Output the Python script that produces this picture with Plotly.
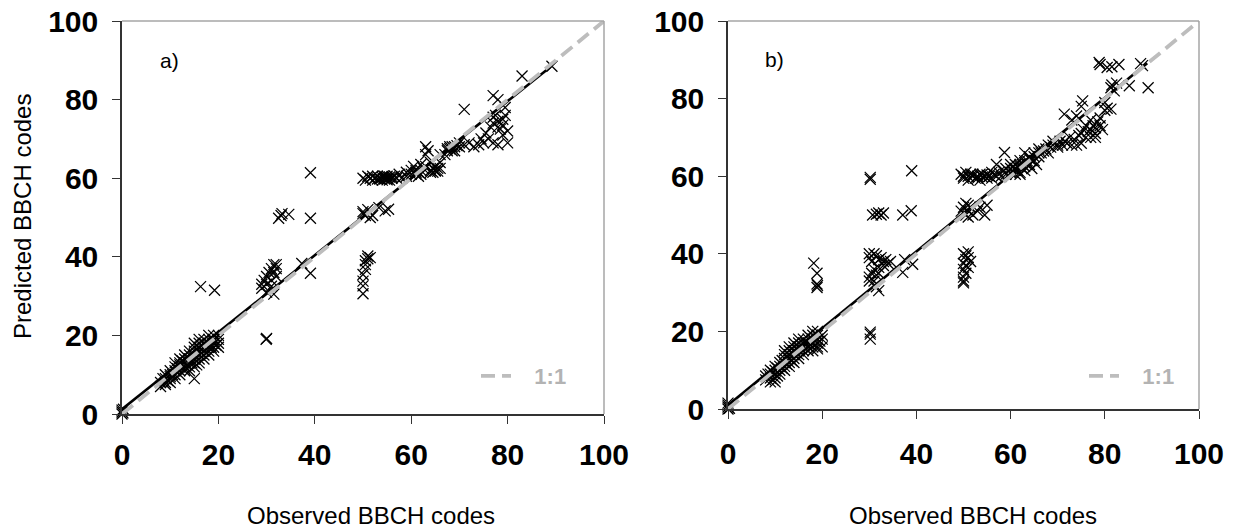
import plotly.graph_objects as go

# ---------------- data ----------------
# panel a) (observed, predicted)
pairs_a = [
    (0, 0), (0, 0.5), (0, 1), (0.2, 0.3), (0.3, 1.2),
    (8, 7), (8, 8), (8.5, 9), (9, 7.5), (9, 8), (9, 9), (9, 10), (9.5, 8.5),
    (10, 8), (10, 9), (10, 9.5), (10, 10), (10, 11), (10.5, 10),
    (11, 9), (11, 10), (11, 11), (11, 12), (11, 13), (11.5, 11.5),
    (12, 10), (12, 11), (12, 12), (12, 12.5), (12, 13), (12, 14), (12.5, 13.5),
    (13, 11), (13, 11.5), (13, 12), (13, 13), (13, 14), (13, 15), (13.5, 12.5),
    (14, 11), (14, 12), (14, 13), (14, 14), (14, 15), (14, 16), (14.5, 13),
    (15, 9), (15, 12), (15, 13), (15, 14), (15, 15), (15, 16), (15, 17), (15, 18), (15.5, 12.5),
    (16, 13), (16, 14), (16, 15), (16, 16), (16, 17), (16, 18), (16, 19), (16.5, 15.5),
    (17, 14), (17, 15), (17, 16), (17, 17), (17, 18), (17, 19), (17.5, 17.5),
    (18, 15), (18, 16), (18, 17), (18, 18), (18, 19), (18, 20), (18.5, 17),
    (19, 16), (19, 17), (19, 18), (19, 19), (19, 20), (19, 18.5), (19.5, 17.5),
    (20, 17), (20, 18), (20, 19), (20, 20),
    (16.3, 32.4), (19.2, 31.5), (29.9, 19), (30, 19.2),
    (29, 32), (29, 33), (29.5, 34), (30, 33), (30, 35), (30.5, 36), (31, 34), (31, 37),
    (31.5, 36), (31.5, 38), (32, 35), (32, 37), (32, 38), (30, 31), (31.5, 30.5), (31, 32.5),
    (32.5, 49.8), (33, 50.5), (34.6, 50.8), (33.2, 51), (37.3, 38.3),
    (39.1, 61.4), (39.1, 49.8), (39.1, 35.8),
    (50, 30.6), (50, 32.6), (50, 33.8), (50, 35.5), (50.5, 36.8), (50.5, 38), (51, 39.5),
    (51, 40.2), (50.5, 39), (51.5, 39.8),
    (50, 51.5), (50, 51), (50.5, 50.5), (51.5, 50), (51, 52), (53.3, 52.5), (54.6, 51.7),
    (55.3, 52.1), (52, 50.5),
    (50, 60), (50.5, 59.5), (51, 60.5), (51.5, 60), (52, 59.5), (52, 60.5), (52.5, 60),
    (53, 60.5), (53.5, 60), (54, 59.5), (54.5, 60.5), (55, 60), (55, 60.5), (55.5, 59.5),
    (56, 60), (56.5, 60.5), (57, 60), (57.5, 61), (58, 60),
    (53.5, 59.8), (54, 60.2), (54.5, 59.8), (55, 59.6), (55.5, 60.3), (56, 60.4),
    (54.2, 60.6), (53, 59.8),
    (59, 60.5), (59, 61.5), (60, 61), (60, 62), (60.5, 63), (61, 61), (61, 62), (61.5, 60.5),
    (62, 62), (62, 63.5), (62, 61), (63, 63), (63, 66), (63, 68), (63.5, 67), (64, 64),
    (64, 62), (64.5, 62.5), (65, 62), (65, 63), (65.5, 62.5), (66, 64), (66, 66), (67, 66),
    (67.5, 67), (68, 67.5), (68.5, 68), (69, 67), (69, 68), (70, 68), (70, 69),
    (64.5, 61.5), (65, 61.8), (65.5, 61.8), (64, 61.5), (66, 62.5), (67.5, 67.5), (68, 68),
    (68.5, 67), (69.5, 68.3), (61, 61.5), (61.5, 61.5), (62.5, 62.5),
    (71, 68.5), (72, 69), (73, 68), (74, 68.5), (74.5, 70), (75, 69), (76, 70), (75.5, 71.5),
    (77, 69), (78, 68.5), (80, 69), (79, 71),
    (76.5, 73), (77, 74), (77, 75.5), (77.5, 76), (78, 73), (78, 74.5), (78.5, 72.5),
    (79, 73.5), (79, 75), (79.5, 76), (80, 72), (79.5, 78), (78, 80), (77, 81),
    (71, 77.5), (83, 86), (89.2, 88.5),
]

# panel b) (observed, predicted)
pairs_b = [
    (0, 0), (0, 0.5), (0, 1), (0, 1.5), (0.3, 0.2),
    (8, 7.5), (8, 8.5), (8.5, 9), (9, 7), (9, 8), (9, 9), (9, 10), (9.5, 7.5), (9.5, 9.5),
    (10, 7), (10, 8), (10, 9), (10, 10), (10, 11), (10.5, 8.5), (10.5, 10.5),
    (11, 9), (11, 10), (11, 11), (11, 12), (11.5, 10.5), (11.5, 12.5),
    (12, 10), (12, 11), (12, 12), (12, 13), (12, 14), (12, 15), (12.5, 11.5), (12.5, 13.5),
    (13, 11), (13, 12), (13, 13), (13, 14), (13, 15), (13, 16), (13.5, 12.5),
    (14, 12), (14, 13), (14, 14), (14, 15), (14, 16), (14, 17), (14.5, 14.5),
    (15, 13), (15, 14), (15, 15), (15, 16), (15, 17), (15, 18), (15.5, 15.5),
    (16, 14), (16, 15), (16, 16), (16, 17), (16, 18), (16.5, 17),
    (17, 15), (17, 16), (17, 17), (17, 18), (17, 19), (17.5, 16.5),
    (18, 15), (18, 16), (18, 17), (18, 18), (18, 19), (18, 20),
    (19, 15.5), (19, 16), (19, 17), (19, 18), (19, 19), (19, 20), (19.5, 17.5),
    (20, 16), (20, 18), (20, 19),
    (18.2, 37.6), (18.9, 35), (18.9, 32.2), (18.9, 31.3), (19, 31.8),
    (30.2, 19.3), (30.2, 18), (30.2, 19.8), (30.2, 59.7), (30.2, 59.2), (39, 61.4),
    (30, 40), (30, 39), (30.5, 38), (31, 40), (31.5, 39.5), (32, 38.5), (32.5, 39), (33, 38),
    (33.5, 38.5), (34, 37.5), (30, 34), (30, 33), (30.5, 35), (31, 36), (31, 33), (31.5, 34.5),
    (32, 36.5), (32, 35), (33, 37), (31.5, 31.5), (32, 30.5), (34.5, 38),
    (30.7, 50), (31.5, 50.2), (32, 50.5), (32.5, 50), (33, 50.5), (37.1, 50), (38.9, 51.1),
    (37.1, 35.2), (39.2, 37.3), (37.5, 38.5),
    (50, 40), (50.5, 39.5), (51, 39), (50.5, 38.5), (51.5, 38), (50, 37.5), (50.5, 37),
    (51, 36.5), (50, 36), (50.5, 35), (50, 34), (50, 33), (50, 32.5), (51, 40.5),
    (49.5, 51), (50, 52), (50.5, 53), (51, 52.5), (51, 51), (51.5, 52), (52, 50), (50.5, 50),
    (53, 51), (53.5, 52), (54.5, 50), (55, 52.5), (51, 49.5),
    (49.5, 60.5), (50, 60), (50, 59.5), (50.5, 61), (51, 60), (51, 59), (51.5, 60.5),
    (52, 60), (52.5, 59.5), (53, 60), (53.5, 59), (54, 60.5), (54.5, 60), (55, 59.5),
    (55.5, 60), (56, 61), (56, 59.5), (56.5, 60.5), (57, 60), (57.5, 61), (58, 60),
    (52, 60.5), (53, 59.5), (53.5, 60.5), (54, 59.8), (55, 60.3),
    (58.5, 61.5), (59, 60.5), (59, 62), (58.7, 66.1), (57, 63), (60, 61), (60, 63),
    (60, 62), (60.5, 61), (61, 61.5), (61, 63), (61.5, 62.5), (62, 61), (62, 63), (62, 64),
    (62.5, 62), (63, 62.5), (63, 64), (63, 66), (63.5, 63), (64, 65), (64, 63), (64.5, 62),
    (65, 64), (65, 66), (65.5, 63), (66, 65), (66, 67), (66.5, 66), (67, 66.5), (67.5, 67),
    (68, 68), (68, 66), (68.5, 67.5), (69, 68), (69, 69), (70, 68), (70, 67.5), (70.5, 69),
    (61, 62), (61.5, 61.5), (62, 62.5), (62.5, 63), (63, 63.5), (63.5, 64), (64, 64.5),
    (61, 60.5), (62, 60.5), (63, 61.5), (65, 65), (66, 66), (64.5, 64),
    (71, 68), (71.5, 69), (72, 68.5), (72.5, 70), (73, 68), (73.5, 69.5), (74, 68),
    (74.5, 70.5), (75, 68.5), (75, 71), (75.5, 72), (76, 70), (76, 73), (76.5, 71.5),
    (77, 72), (77, 70), (77.5, 73), (78, 72.5), (78, 71), (78.5, 74), (79, 73), (79, 75),
    (79.5, 72), (78, 70), (80, 77), (77, 74.5), (75, 78), (74, 75.5), (71.4, 76),
    (75.3, 79.4), (73, 74.5),
    (78.8, 89.3), (79, 88.8), (80.5, 88), (81.5, 88.2), (83, 88.8), (87.6, 89), (88, 88.5),
    (85.2, 83.3), (89.2, 82.8), (81.3, 82.8), (81.5, 83.5), (82, 82), (81.3, 77.3),
    (80, 79), (80.5, 77.5), (82.5, 84),
]

# fitted regression lines (slope, intercept, observed range)
fit_a = (0.98, 1.2)
fit_b = (0.99, 1.0)
fit_range = [0, 89]
one_to_one = [0, 100]

axis_ticks = [0, 20, 40, 60, 80, 100]
panel_labels = ["a)", "b)"]
x_title = "Observed BBCH codes"
y_title = "Predicted BBCH codes"
legend_label = "\u00a0\u00a0\u00a01:1"

# ---------------- figure ----------------
W, H = 1234, 530
FONT = "Liberation Sans, Arial, sans-serif"
GREY = "#bdbdbd"

fig = go.Figure()

panels = [
    (pairs_a, fit_a, "x", "y", "legend"),
    (pairs_b, fit_b, "x2", "y2", "legend2"),
]
for pairs, fit, xa, ya, lg in panels:
    obs = [p[0] for p in pairs]
    pred = [p[1] for p in pairs]
    fig.add_trace(go.Scatter(
        x=obs, y=pred, mode="markers", xaxis=xa, yaxis=ya, showlegend=False,
        cliponaxis=False,
        marker=dict(symbol="x-thin", size=11, line=dict(width=1.25, color="black")),
    ))
    slope, icpt = fit
    fig.add_trace(go.Scatter(
        x=fit_range, y=[slope * v + icpt for v in fit_range], mode="lines",
        xaxis=xa, yaxis=ya, showlegend=False,
        line=dict(color="black", width=2.6),
    ))
    fig.add_trace(go.Scatter(
        x=one_to_one, y=one_to_one, mode="lines", xaxis=xa, yaxis=ya,
        name=legend_label, legend=lg, showlegend=True, cliponaxis=False,
        line=dict(color=GREY, width=3.8, dash="14px,7px"),
    ))

def px_x(v):
    return v / W

def px_y(v):
    return 1 - v / H

axis_common = dict(
    range=[0, 100], tickvals=axis_ticks, ticks="outside", ticklen=8, tickwidth=1.2,
    tickcolor="#333", showline=True, linecolor="#333", linewidth=1.5,
    showgrid=False, zeroline=False, fixedrange=True,
    tickfont=dict(family=FONT, size=30, color="black", weight="bold"),
    automargin=False,
)

legend_font = dict(family=FONT, size=22, color="#b3b3b3", weight="bold")
fig.update_layout(
    width=W, height=H, margin=dict(l=0, r=0, t=0, b=0),
    paper_bgcolor="white", plot_bgcolor="white",
    xaxis=dict(domain=[px_x(122), px_x(604)], anchor="y", ticklabelstandoff=5, **axis_common),
    yaxis=dict(domain=[px_y(414), px_y(21)], anchor="x", ticklabelstandoff=8, **axis_common),
    xaxis2=dict(domain=[px_x(728), px_x(1199)], anchor="y2", ticklabelstandoff=9, **axis_common),
    yaxis2=dict(domain=[px_y(409), px_y(21)], anchor="x2", ticklabelstandoff=8, **axis_common),
    legend=dict(x=px_x(476), xanchor="left", y=px_y(376), yanchor="middle",
                bgcolor="rgba(0,0,0,0)", itemwidth=30, font=legend_font),
    legend2=dict(x=px_x(1084), xanchor="left", y=px_y(376), yanchor="middle",
                 bgcolor="rgba(0,0,0,0)", itemwidth=30, font=legend_font),
)

# light grey top / right frame of each plot area
for xa, ya in (("x", "y"), ("x2", "y2")):
    fig.add_shape(type="line", xref=f"{xa} domain", yref=f"{ya} domain",
                  x0=0, x1=1, y0=1, y1=1, line=dict(color="#a6a6a6", width=1.5))
    fig.add_shape(type="line", xref=f"{xa} domain", yref=f"{ya} domain",
                  x0=1, x1=1, y0=0, y1=1, line=dict(color="#a6a6a6", width=1.5))

# panel labels
for lab, xa, ya in ((panel_labels[0], "x", "y"), (panel_labels[1], "x2", "y2")):
    fig.add_annotation(text=lab, x=7.5, y=90, xref=xa, yref=ya, showarrow=False,
                       xanchor="left", yanchor="middle",
                       font=dict(family=FONT, size=21, color="black"))

# axis titles
for cx in (371, 973):
    fig.add_annotation(text=x_title, x=px_x(cx), y=px_y(515), xref="paper", yref="paper",
                       showarrow=False, xanchor="center", yanchor="middle",
                       font=dict(family=FONT, size=24, color="black"))
fig.add_annotation(text=y_title, x=px_x(22), y=px_y(217), xref="paper", yref="paper",
                   showarrow=False, textangle=-90, xanchor="center", yanchor="middle",
                   font=dict(family=FONT, size=24, color="black"))

fig.write_html("out.html")
